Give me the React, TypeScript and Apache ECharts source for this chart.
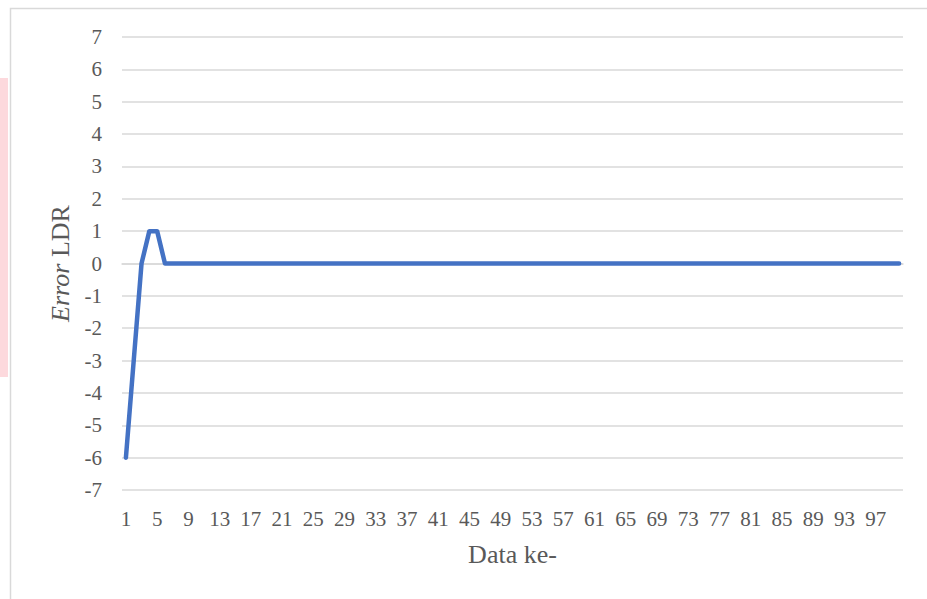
import React, { useEffect, useRef } from "react";
import * as echarts from "echarts";

const categories: string[] = [
  "1","2","3","4","5","6","7","8","9","10",
  "11","12","13","14","15","16","17","18","19","20",
  "21","22","23","24","25","26","27","28","29","30",
  "31","32","33","34","35","36","37","38","39","40",
  "41","42","43","44","45","46","47","48","49","50",
  "51","52","53","54","55","56","57","58","59","60",
  "61","62","63","64","65","66","67","68","69","70",
  "71","72","73","74","75","76","77","78","79","80",
  "81","82","83","84","85","86","87","88","89","90",
  "91","92","93","94","95","96","97","98","99","100",
];

const errorValues: number[] = [
  -6, -3, 0, 1, 1, 0, 0, 0, 0, 0,
  0, 0, 0, 0, 0, 0, 0, 0, 0, 0,
  0, 0, 0, 0, 0, 0, 0, 0, 0, 0,
  0, 0, 0, 0, 0, 0, 0, 0, 0, 0,
  0, 0, 0, 0, 0, 0, 0, 0, 0, 0,
  0, 0, 0, 0, 0, 0, 0, 0, 0, 0,
  0, 0, 0, 0, 0, 0, 0, 0, 0, 0,
  0, 0, 0, 0, 0, 0, 0, 0, 0, 0,
  0, 0, 0, 0, 0, 0, 0, 0, 0, 0,
  0, 0, 0, 0, 0, 0, 0, 0, 0, 0,
];

const yMin = -7;
const yMax = 7;
const yStep = 1;

const FONT = "'Liberation Serif', 'Times New Roman', serif";
const TEXT = "#595959";
const GRID = "#d9d9d9";

export default function App() {
  const ref = useRef<HTMLDivElement>(null);
  useEffect(() => {
    if (!ref.current) return;
    const chart = echarts.init(ref.current, undefined, { renderer: "svg" });
    chart.setOption({
      animation: false,
      backgroundColor: "#ffffff",
      textStyle: { fontFamily: FONT },
      graphic: [
        {
          type: "rect",
          shape: { x: 0, y: 78, width: 8, height: 299 },
          style: { fill: "#fdd9dd" },
          silent: true,
        },
        {
          type: "rect",
          shape: { x: 10.5, y: 8.5, width: 940, height: 620 },
          style: { fill: "none", stroke: GRID, lineWidth: 1.5 },
          silent: true,
        },
      ],
      grid: { left: 122, right: 24, top: 37, bottom: 109, containLabel: false },
      xAxis: {
        type: "category",
        data: categories,
        boundaryGap: true,
        axisLine: { show: true, lineStyle: { color: GRID, width: 1.5 } },
        axisTick: { show: false },
        axisLabel: {
          interval: 3,
          color: TEXT,
          fontSize: 21,
          fontFamily: FONT,
          margin: 18,
        },
        name: "Data ke-",
        nameLocation: "middle",
        nameGap: 51,
        nameTextStyle: { color: TEXT, fontSize: 26, fontFamily: FONT },
      },
      yAxis: {
        type: "value",
        min: yMin,
        max: yMax,
        interval: yStep,
        axisLine: { show: false },
        axisTick: { show: false },
        splitLine: { lineStyle: { color: GRID, width: 1.5 } },
        axisLabel: {
          color: TEXT,
          fontSize: 21,
          fontFamily: FONT,
          margin: 20,
        },
        name: "{i|Error} LDR",
        nameLocation: "middle",
        nameGap: 48,
        nameRotate: 90,
        nameTextStyle: {
          color: TEXT,
          fontSize: 26,
          fontFamily: FONT,
          rich: {
            i: { fontStyle: "italic", fontSize: 26, fontFamily: FONT, color: TEXT },
          },
        },
      },
      series: [
        {
          type: "line",
          data: errorValues,
          showSymbol: false,
          symbol: "none",
          lineStyle: { color: "#4472C4", width: 4.5, cap: "round", join: "round" },
          itemStyle: { color: "#4472C4" },
        },
      ],
    });
    return () => chart.dispose();
  }, []);
  return (
    <div
      ref={ref}
      style={{ position: "fixed", left: 0, top: 0, width: 927, height: 599 }}
    />
  );
}
